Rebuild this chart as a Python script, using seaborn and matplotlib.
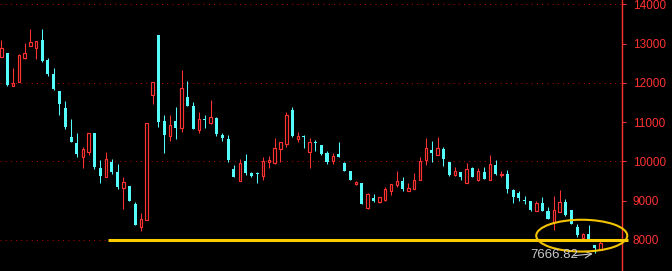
import numpy as np
import pandas as pd
import matplotlib
matplotlib.use("Agg")
import matplotlib.pyplot as plt
import seaborn as sns
from matplotlib.patches import Ellipse

opens = [12659, 12761, 11920, 12022, 12633, 12939, 12888, 13092, 12582, 12226,
         11793, 11360, 10622, 10469, 10113, 10240, 10724, 9833, 9604, 9985,
         9731, 9324, 9374, 8916, 8331, 8509, 11691, 13219, 11029, 10647,
         11029, 10851, 11640, 11411, 10800, 11065, 10978, 11106, 10673, 10571,
         9807, 9502, 10011, 9705, 9690, 9629, 9985, 9960, 10316, 10444,
         11309, 10571, 10650, 10240, 10480, 10418, 10215, 10011, 10189, 9960,
         9756, 9425, 9451, 8814, 9069, 8967, 9018, 9247, 9400, 9502,
         9247, 9298, 9527, 10036, 10291, 10164, 10316, 9985, 9654, 9731,
         9451, 9833, 9527, 9731, 9527, 9909, 9660, 9680, 9273, 9196,
         9018, 8993, 8738, 8942, 8738, 8458, 8712, 8967, 8763, 8331,
         8051, 8152, 7872, 7745]

closes = [12888, 11946, 11997, 12710, 12761, 13041, 13066, 12557, 12226, 11844,
          11462, 10877, 10495, 10189, 10316, 10724, 9858, 9629, 10062, 9731,
          9349, 9476, 8993, 8381, 8534, 10978, 12022, 11004, 10673, 10927,
          10851, 11870, 11411, 10826, 11080, 11045, 11131, 10698, 10597, 10036,
          9604, 9960, 9705, 9629, 9670, 10011, 10036, 10342, 10495, 11182,
          10647, 10647, 10630, 10495, 10460, 10189, 9985, 10138, 10113, 9756,
          9527, 9476, 8916, 9171, 8993, 9094, 9298, 9425, 9502, 9298,
          9324, 9527, 10011, 10342, 10215, 10342, 10062, 9654, 9756, 9604,
          9807, 9604, 9756, 9553, 9935, 9680, 9680, 9298, 9094, 9069,
          8993, 8763, 8942, 8738, 8534, 8763, 8967, 8636, 8407, 8127,
          8152, 8025, 7796, 7923]

highs = [13092, 12761, 12379, 12735, 13015, 13372, 13066, 13372, 12633, 12379,
         11793, 11539, 11080, 10724, 10367, 10724, 10724, 10036, 10240, 10062,
         9935, 9604, 9374, 8967, 8687, 10978, 12022, 13219, 11182, 11182,
         11386, 12328, 12048, 11513, 11258, 11182, 11564, 11131, 10724, 10673,
         9909, 10062, 10189, 9731, 9731, 10113, 10138, 10597, 10495, 11258,
         11386, 10749, 10673, 10597, 10546, 10418, 10266, 10215, 10495, 9985,
         9756, 9502, 9451, 9196, 9171, 9094, 9349, 9425, 9756, 9604,
         9451, 9705, 10113, 10597, 10520, 10622, 10367, 9985, 9858, 9731,
         9960, 9858, 9833, 9858, 10164, 10036, 9756, 9782, 9298, 9247,
         9120, 8993, 8993, 9094, 8840, 9120, 9273, 9043, 8763, 8407,
         8178, 8381, 7872, 7974]

lows = [12659, 11920, 11920, 12022, 12608, 12939, 12608, 12531, 12175, 11819,
        11182, 10826, 10495, 10113, 9833, 10164, 9807, 9451, 9604, 9680,
        9298, 8789, 8993, 8381, 8229, 8509, 11462, 10877, 10215, 10520,
        10571, 10749, 11411, 10826, 10724, 10851, 10953, 10647, 10520, 9985,
        9604, 9502, 9654, 9604, 9451, 9527, 9833, 9935, 9985, 10367,
        10622, 10495, 10342, 9833, 10266, 10164, 9935, 9935, 10113, 9756,
        9527, 9400, 8916, 8789, 8967, 8942, 8993, 9145, 9349, 9247,
        9247, 9298, 9527, 9909, 9985, 10164, 9884, 9629, 9629, 9527,
        9451, 9604, 9502, 9553, 9527, 9654, 9604, 9196, 8942, 8993,
        8916, 8738, 8738, 8738, 8534, 8254, 8712, 8611, 8407, 8076,
        8051, 7974, 7666.82, 7745]

tick_values = [8000, 9000, 10000, 11000, 12000, 13000, 14000]
grid_values = [8000, 10000, 12000, 14000]
support_level = 8000
low_label = "7666.82"

sns.set_theme(style="dark", rc={"axes.facecolor": "black", "figure.facecolor": "black"})
plt.rcParams['font.family'] = ['Liberation Sans', 'DejaVu Sans']

RED = '#FF3232'
CYAN = '#54FCFC'
GOLD = '#FFCC00'

df = pd.DataFrame(dict(open=opens, high=highs, low=lows, close=closes))
df['idx'] = np.arange(len(df))
up = df['close'] >= df['open']

fig = plt.figure(figsize=(6.72, 2.71), dpi=100)
fig.patch.set_facecolor('black')
ax = fig.add_axes([0, 0, 621.7 / 672, 1])
ax.set_facecolor('black')
ax.grid(False)

for v in grid_values:
    ax.axhline(v, color='#B00000', lw=0.75, ls=(0, (1, 4)), zorder=1)

dn = df[~up]
du = df[up]
ax.vlines(dn['idx'], dn['low'], dn['high'], color=CYAN, lw=0.75, zorder=2)
ax.vlines(du['idx'], du['low'], du['high'], color=RED, lw=0.75, zorder=2)
ax.bar(dn['idx'], (dn['open'] - dn['close']).clip(lower=25), bottom=dn['close'],
       width=0.52, color=CYAN, linewidth=0, zorder=3)
ax.bar(du['idx'], (du['close'] - du['open']).clip(lower=25), bottom=du['open'],
       width=0.42, facecolor='black', edgecolor=RED, linewidth=0.85, zorder=3)

ax.plot([18.35, 107.8], [support_level, support_level], color=GOLD, lw=2.2,
        clip_on=False, zorder=5, solid_capstyle='butt')
ax.add_patch(Ellipse((99.8, 8110), 15.65, 810, fill=False, edgecolor='#F5C400',
                     lw=1.5, clip_on=False, zorder=6))

ax.text(90.9, 7605, low_label, color='#C8C8C8', fontsize=9.5, ha='left', va='center', zorder=7)
ax.annotate('', xy=(101.7, 7648), xytext=(98.4, 7598),
            arrowprops=dict(arrowstyle='->', color='#C8C8C8', lw=0.8, shrinkA=0, shrinkB=0))

ax.set_xlim(-0.224, 106.67)
ax.set_ylim(7210, 14110)
ax.set_xticks([])
ax.yaxis.tick_right()
ax.set_yticks(tick_values)
ax.set_yticklabels([str(v) for v in tick_values])
ax.tick_params(axis='y', which='major', right=True, left=False, length=3, width=0.75,
               color=RED, labelcolor=RED, labelsize=8.5, pad=5)
for s in ['left', 'top', 'bottom']:
    ax.spines[s].set_visible(False)
ax.spines['right'].set_color(RED)
ax.spines['right'].set_linewidth(1)

fig.savefig('out.png', dpi=100, facecolor='black')
